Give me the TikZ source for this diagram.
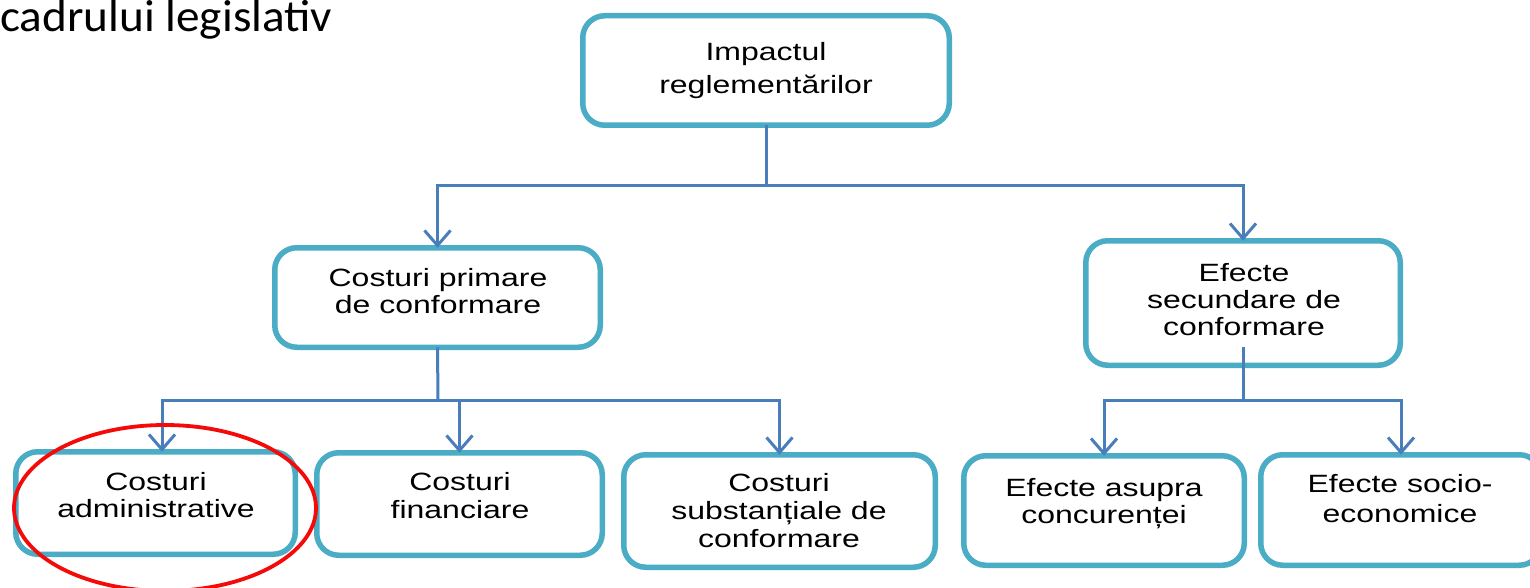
\documentclass[tikz,border=0pt]{standalone}
\usepackage{fontspec}
\usetikzlibrary{arrows.meta,shapes.geometric}
\newfontfamily\titlefont[FakeStretch=1.05]{Carlito}
\newfontfamily\boxfont[FakeStretch=1.28]{Liberation Sans}
\definecolor{boxc}{HTML}{4BACC6}
\definecolor{linec}{HTML}{4A7EBB}
\definecolor{hlred}{HTML}{F50A0A}
\tikzset{
  box/.style={draw=boxc, line width=5.5pt, rounded corners=22pt, fill=white, inner sep=0pt, outer sep=0pt},
  txt/.style={align=center, inner sep=0pt, anchor=base, text=black},
  conn/.style={draw=linec, line width=3pt},
  arr/.style={conn, -{Straight Barb[length=15pt,width=26pt]}},
}
\newcommand{\bfs}[1]{\boxfont\fontsize{25}{#1}\selectfont}
\begin{document}
\begin{tikzpicture}[x=1pt,y=-1pt]
\clip (0,0) rectangle (1530,588);
\fill[white] (0,0) rectangle (1530,588);

\node[txt, anchor=base west, font=\titlefont\fontsize{45}{52}\selectfont] (title) at (0,32) {cadrului legislativ};

% boxes
\node[box, minimum width=366.5pt, minimum height=109.5pt] (top) at (766,70.5) {};
\node[box, minimum width=325.5pt, minimum height=99.5pt] (prim) at (437.5,297.5) {};
\node[box, minimum width=314.5pt, minimum height=124.5pt] (sec) at (1243,303) {};
\node[box, minimum width=279.5pt, minimum height=102.5pt] (adm) at (155.5,503) {};
\node[box, minimum width=285.5pt, minimum height=102.5pt] (fin) at (459.5,504) {};
\node[box, minimum width=311.5pt, minimum height=112.5pt] (sub) at (779.5,511) {};
\node[box, minimum width=280.5pt, minimum height=109.5pt] (asu) at (1104,510.5) {};
\node[box, minimum width=280.5pt, minimum height=110.5pt] (soc) at (1401,510) {};

% texts (anchor = baseline of last line)
\node[txt, font=\bfs{33}] (ttop) at (766,94) {Impactul\\reglementărilor};
\node[txt, font=\bfs{27}] (tprim) at (438,313) {Costuri primare\\de conformare};
\node[txt, font=\bfs{27}] (tsec) at (1244,335) {Efecte\\secundare de\\conformare};
\node[txt, font=\bfs{27}] (tadm) at (156,517) {Costuri\\administrative};
\node[txt, font=\bfs{28}] (tfin) at (460,518) {Costuri\\financiare};
\node[txt, font=\bfs{28}] (tsub) at (779,547) {Costuri\\substanțiale de\\conformare};
\node[txt, font=\bfs{27}] (tasu) at (1104,523) {Efecte asupra\\concurenței};
\node[txt, font=\bfs{30}] (tsoc) at (1400,522) {Efecte socio-\\economice};

% junctions
\coordinate (j1) at (766,186);
\coordinate (j2) at (438,400);
\coordinate (j3) at (1243,400);

% connectors
\draw[conn] (top.south) -- (j1);
\draw[arr] (j1) -| (prim.north);
\draw[arr] (j1) -| (sec.north);

\draw[conn] (prim.south) -- (j2);
\draw[arr] (j2) -| ([xshift=6.5pt]adm.north);
\draw[arr] (j2) -| (fin.north);
\draw[arr] (j2) -| (sub.north);

\draw[conn, shorten <=-18pt] (sec.south) -- (j3);
\draw[arr] (j3) -| (asu.north);
\draw[arr] (j3) -| (soc.north);

% highlight
\node[draw=hlred, line width=3.8pt, ellipse, inner sep=0pt, minimum width=302pt, minimum height=166pt] (hl) at (165,508) {};
\end{tikzpicture}
\end{document}
